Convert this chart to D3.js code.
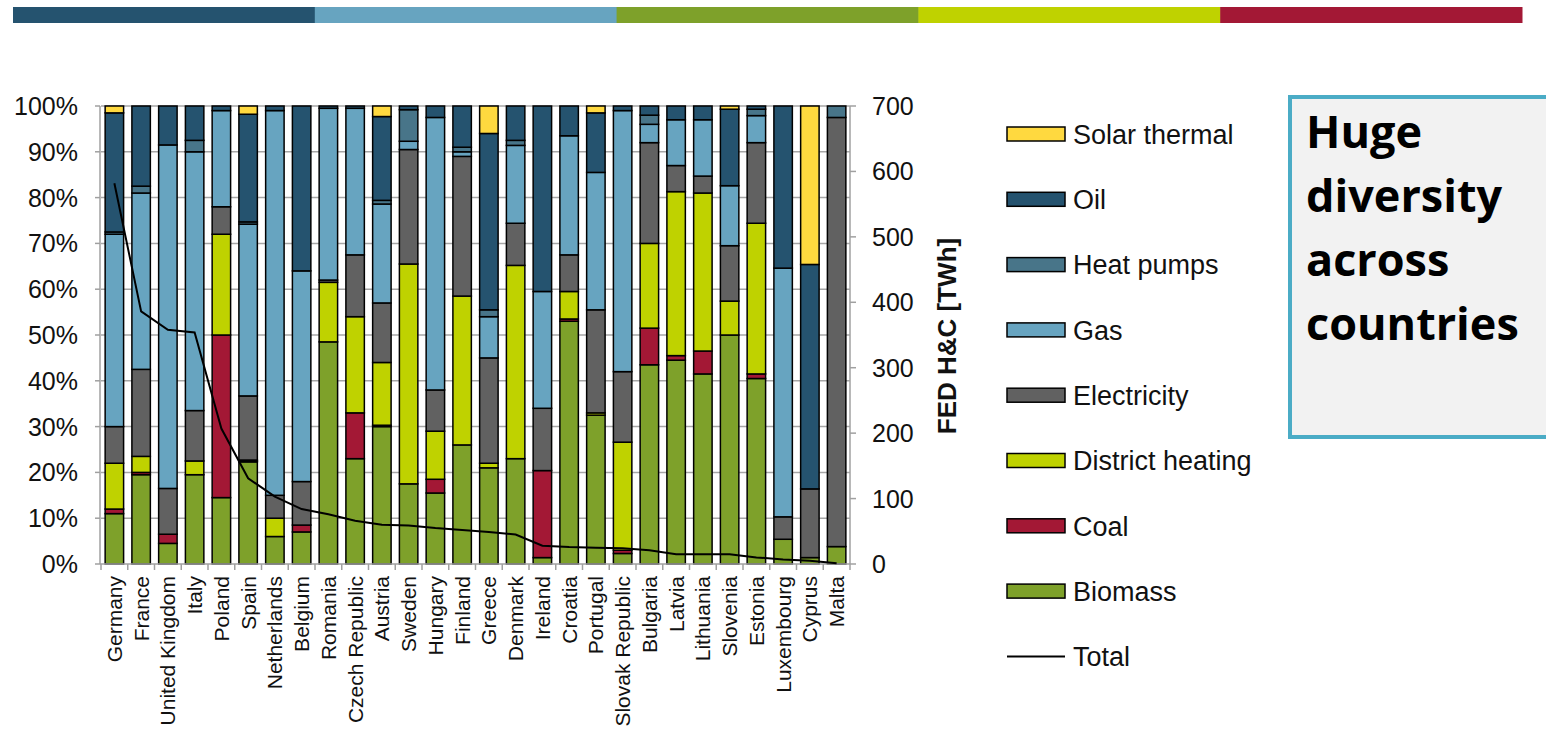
<!DOCTYPE html>
<html>
<head>
<meta charset="utf-8">
<script src="https://cdn.jsdelivr.net/npm/d3@7"></script>
<style>
  body { margin: 0; background: #fff; }
  text { font-family: Arial, "Liberation Sans", sans-serif; }
</style>
</head>
<body>
<div id="plot"></div>
<script>
var w = 1546, h = 730;

// countries, ordered by total final energy demand for heating & cooling
var countries = ['Germany','France','United Kingdom','Italy','Poland','Spain','Netherlands','Belgium',
  'Romania','Czech Republic','Austria','Sweden','Hungary','Finland','Greece','Denmark','Ireland',
  'Croatia','Portugal','Slovak Republic','Bulgaria','Latvia','Lithuania','Slovenia','Estonia',
  'Luxembourg','Cyprus','Malta'];

// shares in % (bottom to top)
var biomass = [11,19.5,4.5,19.5,14.5,22.3,6,7,48.5,23,30,17.5,15.5,26,21,23,1.4,53,32.5,2.3,43.5,44.5,41.5,50,40.5,5.4,1.4,3.8];
var coal    = [1,0.5,2,0,35.5,0.2,0,1.5,0,10,0.3,0,3,0,0,0,19,0.5,0,0.7,8,1,5,0,1,0,0,0];
var district= [10,3.5,0,3,22,0.2,4,0,13,21,13.7,48,10.5,32.5,1,42.2,0,6,0.5,23.6,18.5,35.8,34.5,7.4,32.9,0,0,0];
var electricity = [8,19,10,11,6,14,5,9.5,0.5,13.5,13,25,9,30.5,23,9.2,13.6,8,22.5,15.4,22,5.7,3.7,12.1,17.6,4.9,15,93.7];
var gas     = [42,38.5,75,56.5,21,37.5,84,46,37.5,32,21.6,1.8,59.5,1,9,17,25.5,26,30,57,4,10,12.3,13.1,5.9,54.3,0,0];
var heatPumps = [0.5,1.5,0,2.5,0,0.5,0,0,0,0,0.8,6.9,0,1,1.5,1.1,0,0,0,0,2,0,0,0,1.4,0,0,2.5];
var oil     = [26,17.5,8.5,7.5,1,23.5,1,36,0.5,0.5,18.3,0.8,2.5,9,38.5,7.5,40.5,6.5,13,1,2,3,3,16.7,0.7,35.4,49,0];
var solar   = [1.5,0,0,0,0,1.8,0,0,0,0,2.3,0,0,0,6,0,0,0,1.5,0,0,0,0,0.7,0,0,34.6,0];

// total FED H&C in TWh
var total = [582,386,358,354,207,131,103,84,76,66,60,59,55,52,49,45,28,26,25,24,21,15,15,15,10,7,5,1];

var seriesNames = ['Biomass','Coal','District heating','Electricity','Gas','Heat pumps','Oil','Solar thermal'];
var seriesValues = [biomass, coal, district, electricity, gas, heatPumps, oil, solar];
var seriesColors = ['#7ea12a','#a31835','#bfd200','#616161','#67a4c0','#487589','#25536f','#ffd93f'];

var pctTicks = [0,10,20,30,40,50,60,70,80,90,100];
var twhTicks = [0,100,200,300,400,500,600,700];

var bannerColors = ['#25536f','#67a4c0','#7ea12a','#bfd200','#a31835'];

var svg = d3.select('#plot').append('svg')
    .attr('width', w)
    .attr('height', h);

// top banner
var banner = d3.scaleBand().domain(d3.range(bannerColors.length)).range([13, 1522]);
svg.selectAll('.banner')
    .data(bannerColors)
    .enter()
    .append('rect')
    .attr('x', function(d,i){ return banner(i); })
    .attr('y', 7)
    .attr('width', banner.bandwidth() + 0.5)
    .attr('height', 16)
    .style('fill', function(d){ return d; });

var pLeft = 101, pRight = 850, pTop = 106, pBottom = 564;

var x = d3.scaleBand().domain(countries).range([pLeft, pRight]).paddingInner(0.31).paddingOuter(0.155);
var y = d3.scaleLinear().domain([0,100]).range([pBottom, pTop]);
var y2 = d3.scaleLinear().domain([0,700]).range([pBottom, pTop]);

// gridlines
svg.append('g')
    .selectAll('line')
    .data(pctTicks.slice(1))
    .enter()
    .append('line')
    .attr('x1', pLeft).attr('x2', pRight)
    .attr('y1', function(d){ return y(d); })
    .attr('y2', function(d){ return y(d); })
    .style('stroke', '#a6a6a6')
    .style('stroke-width', 1.5);

// stacked bars
var rows = countries.map(function(c, i){
    var row = {country: c};
    seriesNames.forEach(function(s, k){ row[s] = seriesValues[k][i]; });
    return row;
});
var stack = d3.stack().keys(seriesNames)(rows);

var layers = svg.append('g').selectAll('.layer')
    .data(stack)
    .enter()
    .append('g')
    .attr('class', 'layer')
    .style('fill', function(d, k){ return seriesColors[k]; });

layers.selectAll('rect')
    .data(function(d){ return d.filter(function(p){ return p[1] - p[0] > 0; }); })
    .enter()
    .append('rect')
    .attr('x', function(d){ return x(d.data.country); })
    .attr('width', x.bandwidth())
    .attr('y', function(d){ return y(d[1]); })
    .attr('height', function(d){ return y(d[0]) - y(d[1]); })
    .style('stroke', '#000')
    .style('stroke-width', 1.5);

// axes
var axisColor = '#a0a0a0';
var axes = svg.append('g').style('stroke', axisColor).style('stroke-width', 1.5);
axes.append('line').attr('x1', pLeft - 1).attr('x2', pLeft - 1).attr('y1', pTop).attr('y2', pBottom);
axes.append('line').attr('x1', pRight).attr('x2', pRight).attr('y1', pTop).attr('y2', pBottom);
axes.append('line').attr('x1', pLeft - 1).attr('x2', pRight).attr('y1', pBottom).attr('y2', pBottom);

axes.selectAll('.lt').data(pctTicks).enter().append('line')
    .attr('x1', pLeft - 6).attr('x2', pLeft - 1)
    .attr('y1', function(d){ return y(d); }).attr('y2', function(d){ return y(d); });
axes.selectAll('.rt').data(twhTicks).enter().append('line')
    .attr('x1', pRight).attr('x2', pRight + 6)
    .attr('y1', function(d){ return y2(d); }).attr('y2', function(d){ return y2(d); });
axes.selectAll('.bt').data(d3.range(countries.length + 1)).enter().append('line')
    .attr('x1', function(i){ return pLeft + i * (pRight - pLeft) / countries.length; })
    .attr('x2', function(i){ return pLeft + i * (pRight - pLeft) / countries.length; })
    .attr('y1', pBottom).attr('y2', pBottom + 6);

svg.append('g').selectAll('text')
    .data(pctTicks)
    .enter()
    .append('text')
    .attr('x', 78)
    .attr('y', function(d){ return y(d); })
    .attr('dy', '0.36em')
    .attr('text-anchor', 'end')
    .style('font-size', '25px')
    .style('fill', '#111')
    .text(function(d){ return d + '%'; });

svg.append('g').selectAll('text')
    .data(twhTicks)
    .enter()
    .append('text')
    .attr('x', 872)
    .attr('y', function(d){ return y2(d); })
    .attr('dy', '0.36em')
    .style('font-size', '25px')
    .style('fill', '#111')
    .text(function(d){ return d; });

svg.append('text')
    .attr('transform', 'translate(956,' + ((pTop + pBottom) / 2 + 1) + ') rotate(-90)')
    .attr('text-anchor', 'middle')
    .style('font-size', '26px')
    .style('font-weight', 'bold')
    .style('fill', '#111')
    .text('FED H&C [TWh]');

svg.append('g').selectAll('text')
    .data(countries)
    .enter()
    .append('text')
    .attr('transform', function(d){ return 'translate(' + (x(d) + x.bandwidth() / 2) + ',' + (pBottom + 12) + ') rotate(-90)'; })
    .attr('dy', '0.36em')
    .attr('text-anchor', 'end')
    .style('font-size', '21px')
    .style('fill', '#111')
    .text(function(d){ return d; });

// total line
var line = d3.line()
    .x(function(d, i){ return x(countries[i]) + x.bandwidth() / 2; })
    .y(function(d){ return y2(d); });
svg.append('path')
    .datum(total)
    .attr('d', line)
    .style('fill', 'none')
    .style('stroke', '#000')
    .style('stroke-width', 2);

// legend
var legendItems = seriesNames.slice().reverse();
var legendColors = seriesColors.slice().reverse();
var legend = svg.append('g').selectAll('.legend')
    .data(legendItems.concat(['Total']))
    .enter()
    .append('g')
    .attr('transform', function(d, i){ return 'translate(1007,' + (134 + i * 65.3) + ')'; });

legend.filter(function(d){ return d !== 'Total'; })
    .append('rect')
    .attr('x', 0).attr('y', -7)
    .attr('width', 58).attr('height', 14)
    .style('fill', function(d, i){ return legendColors[i]; })
    .style('stroke', '#000')
    .style('stroke-width', 1.5);

legend.filter(function(d){ return d === 'Total'; })
    .append('line')
    .attr('x1', 0).attr('x2', 58)
    .style('stroke', '#000')
    .style('stroke-width', 2);

legend.append('text')
    .attr('x', 66)
    .attr('dy', '0.36em')
    .style('font-size', '27px')
    .style('fill', '#111')
    .text(function(d){ return d; });

// callout box
svg.append('rect')
    .attr('x', 1290).attr('y', 97)
    .attr('width', 270).attr('height', 340)
    .style('fill', '#f2f2f2')
    .style('stroke', '#4bacc6')
    .style('stroke-width', 4);

svg.append('g').selectAll('text')
    .data(['Huge', 'diversity', 'across', 'countries'])
    .enter()
    .append('text')
    .attr('x', 1306)
    .attr('y', function(d, i){ return 148 + i * 64; })
    .style('font-family', '"Open Sans", sans-serif')
    .style('font-weight', 'bold')
    .style('font-size', '45px')
    .style('fill', '#000')
    .text(function(d){ return d; });
</script>
</body>
</html>
